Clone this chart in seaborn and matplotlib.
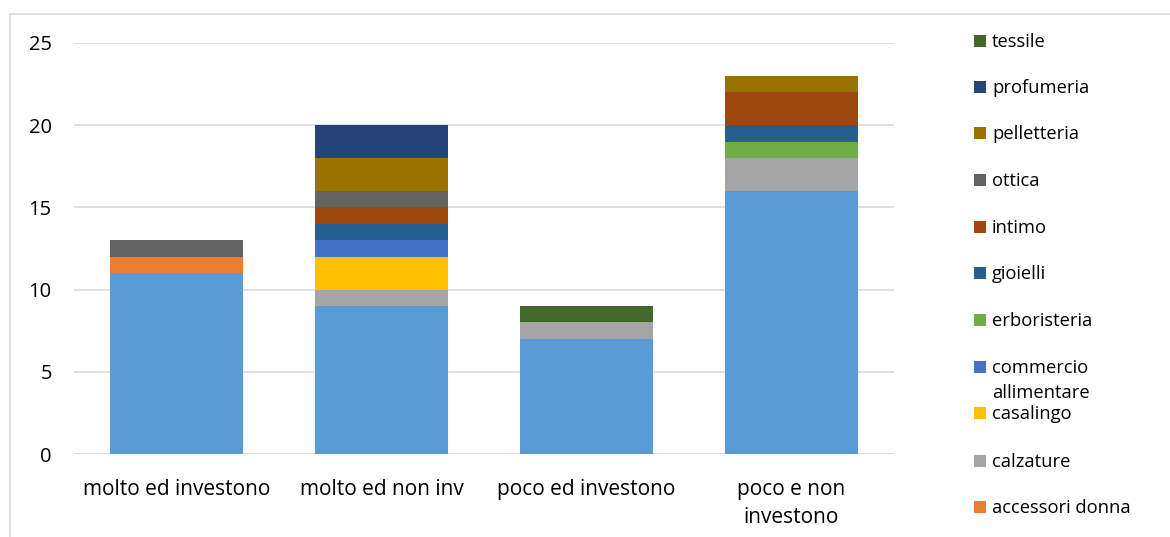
import numpy as np
import matplotlib
matplotlib.use("Agg")
import matplotlib.pyplot as plt
from matplotlib.patches import Rectangle
import seaborn as sns

# Categories on the x axis
categories = ["molto ed investono", "molto ed non inv", "poco ed investono", "poco e non\ninvestono"]

# Stacked series, from bottom to top
abbigliamento = [11, 9, 7, 16]
accessori_donna = [1, 0, 0, 0]
calzature = [0, 1, 1, 2]
casalingo = [0, 2, 0, 0]
commercio_allimentare = [0, 1, 0, 0]
erboristeria = [0, 0, 0, 1]
gioielli = [0, 1, 0, 1]
intimo = [0, 1, 0, 2]
ottica = [1, 1, 0, 0]
pelletteria = [0, 2, 0, 1]
profumeria = [0, 2, 0, 0]
tessile = [0, 0, 1, 0]

series_names = ["abbigliamento", "accessori donna", "calzature", "casalingo",
                "commercio\nallimentare", "erboristeria", "gioielli", "intimo",
                "ottica", "pelletteria", "profumeria", "tessile"]
series_values = [abbigliamento, accessori_donna, calzature, casalingo,
                 commercio_allimentare, erboristeria, gioielli, intimo,
                 ottica, pelletteria, profumeria, tessile]
colors = ["#5B9BD5", "#ED7D31", "#A5A5A5", "#FFC000", "#4472C4", "#70AD47",
          "#255E91", "#9E480E", "#636363", "#997300", "#264478", "#43682B"]

sns.set_theme(style="white")
plt.rcParams["font.family"] = ["Open Sans", "DejaVu Sans"]

fig = plt.figure(figsize=(11.7, 5.37), dpi=100)
ax = fig.add_axes([74 / 1170, 1 - 454 / 537, 820 / 1170, 411 / 537])

bottom = np.zeros(len(categories))
for name, vals, col in zip(series_names, series_values, colors):
    sns.barplot(x=categories, y=vals, bottom=bottom, color=col, saturation=1,
                width=0.65, linewidth=0, ax=ax, zorder=3)
    bottom = bottom + np.array(vals)

ax.set_ylim(0, 25)
ax.set_xlim(-0.5, len(categories) - 0.5)
ax.set_yticks([0, 5, 10, 15, 20, 25])
ax.yaxis.grid(True, color="#D9D9D9", linewidth=1.2, zorder=0)
ax.set_axisbelow(True)
for s in ax.spines.values():
    s.set_visible(False)
ax.tick_params(axis="y", length=0, pad=16, labelsize=14.5, labelcolor="#000000")
ax.tick_params(axis="x", length=0, pad=18, labelsize=15, labelcolor="#000000")
for t in ax.get_xticklabels():
    t.set_linespacing(1.45)
    t.set_verticalalignment("top")
ax.set_xlabel("")
ax.set_ylabel("")

# Outer chart frame
fig.patches.append(Rectangle((10 / 1170, -0.2), 1.2, 1.2 - 14 / 537,
                             transform=fig.transFigure, fill=False,
                             edgecolor="#D9D9D9", linewidth=1.2))

# Legend (top entry is the last stacked series)
legend_y = [41, 87, 133, 180, 227, 273, 320, 367, 413, 461, 507]
legend_items = list(zip(series_names[1:], colors[1:]))[::-1]
for (name, col), yp in zip(legend_items, legend_y):
    fig.patches.append(Rectangle((974 / 1170, 1 - (yp + 6) / 537), 12 / 1170, 12 / 537,
                                 transform=fig.transFigure, facecolor=col,
                                 edgecolor="none"))
    lines = name.split("\n")
    fig.text(992 / 1170, 1 - (yp + 1) / 537, lines[0], fontsize=13.2,
             va="center", ha="left", color="#000000")
    if len(lines) > 1:
        fig.text(992 / 1170, 1 - (yp + 26) / 537, lines[1], fontsize=13.2,
                 va="center", ha="left", color="#000000")

fig.savefig("out.png", dpi=100)
